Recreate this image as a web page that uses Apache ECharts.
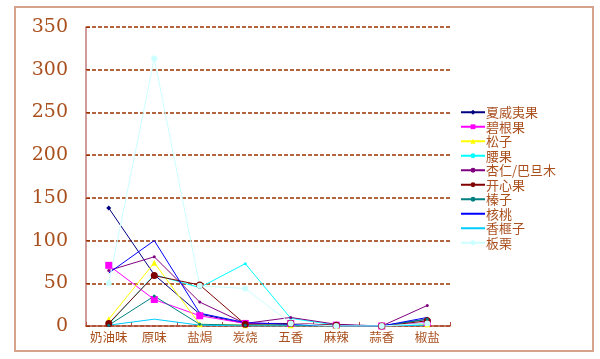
<!DOCTYPE html>
<html>
<head>
<meta charset="utf-8">
<script src="https://cdn.jsdelivr.net/npm/echarts@6/dist/echarts.min.js"></script>
<style>
html,body{margin:0;padding:0;background:#fff;}
#chart{width:600px;height:359px;}
</style>
</head>
<body>
<div id="chart"></div>
<script>
var categories = ['奶油味','原味','盐焗','炭烧','五香','麻辣','蒜香','椒盐'];
var yTicks = [0, 50, 100, 150, 200, 250, 300, 350];

var names = ['夏威夷果','碧根果','松子','腰果','杏仁/巴旦木','开心果','榛子','核桃','香榧子','板栗'];
var macadamia = [138, 60, 14, 3, 2, 1, 0, 8];
var pecan = [71, 31, 12, 3, 3, 1, 0, 4];
var pineNut = [8, 74, 2, 1, 1, 0, 0, 2];
var cashew = [2, 60, 45, 73, 9, 1, 0, 3];
var almond = [65, 81, 28, 3, 10, 2, 0, 24];
var pistachio = [3, 59, 48, 2, 3, 1, 0, 6];
var hazelnut = [1, 35, 2, 1, 1, 0, 0, 8];
var walnut = [62, 100, 15, 4, 2, 0, 0, 10];
var torreya = [1, 8, 1, 0, 0, 0, 0, 1];
var chestnut = [50, 313, 47, 44, 3, 0, 0, 3];

var seriesData = [macadamia, pecan, pineNut, cashew, almond, pistachio, hazelnut, walnut, torreya, chestnut];
var colors = ['#000080','#FF00FF','#FFFF00','#00FFFF','#800080','#800000','#008080','#0000FF','#00CCFF','#CCFFFF'];
var symbols = ['diamond','rect','triangle','circle','circle','circle','circle','none','none','circle'];
var symbolSizes = [5, 7, 6, 3, 3, 7, 3, 0, 0, 6];

var textColor = '#a9501e';

var series = names.map(function(n, i){
  return {
    name: n,
    type: 'line',
    data: seriesData[i],
    symbol: symbols[i],
    symbolSize: symbolSizes[i],
    showSymbol: symbols[i] !== 'none',
    lineStyle: {color: colors[i], width: 1},
    itemStyle: {color: colors[i]},
    emphasis: {disabled: true},
    animation: false
  };
});

var legendData = names.map(function(n, i){
  var item = {name: n};
  if (symbols[i] === 'none') {
    item.itemStyle = {opacity: 0};
  }
  return item;
});

var chart = echarts.init(document.getElementById('chart'), null, {renderer: 'canvas'});
chart.setOption({
  animation: false,
  color: colors,
  grid: {left: 86, right: 150, top: 27, bottom: 33, containLabel: false},
  graphic: [{
    type: 'rect',
    shape: {x: 15, y: 7, width: 578, height: 344},
    style: {fill: 'none', stroke: '#d6a28a', lineWidth: 2},
    silent: true,
    z: -1
  }],
  legend: {
    orient: 'vertical',
    left: 455,
    top: 100,
    itemWidth: 24,
    itemHeight: 6,
    itemGap: 0,
    data: legendData,
    textStyle: {color: textColor, fontSize: 13, lineHeight: 12.5, fontFamily: 'Noto Sans CJK SC', padding: [2,0,0,-4]},
    selectedMode: false
  },
  xAxis: {
    type: 'category',
    data: categories,
    boundaryGap: true,
    axisLine: {show: true, lineStyle: {color: '#b0503a', width: 1.5}},
    axisTick: {show: true, inside: true, length: 4, interval: 0, lineStyle: {color: '#b0503a'}},
    axisLabel: {color: textColor, fontSize: 12.5, fontFamily: 'Noto Sans CJK SC', margin: 5, interval: 0},
    splitLine: {show: false}
  },
  yAxis: {
    type: 'value',
    min: 0,
    max: 350,
    interval: 50,
    axisLine: {show: true, lineStyle: {color: '#c07a7a', width: 1.5}},
    axisTick: {show: true, inside: true, length: 4, lineStyle: {color: '#993300'}},
    axisLabel: {color: textColor, fontSize: 19, fontFamily: 'DejaVu Serif', margin: 18,
      formatter: function(v){ return yTicks.indexOf(v) >= 0 ? String(v) : ''; }},
    splitLine: {show: true, lineStyle: {color: '#993300', width: 1.5, type: [4, 2]}}
  },
  series: series
});
</script>
</body>
</html>
